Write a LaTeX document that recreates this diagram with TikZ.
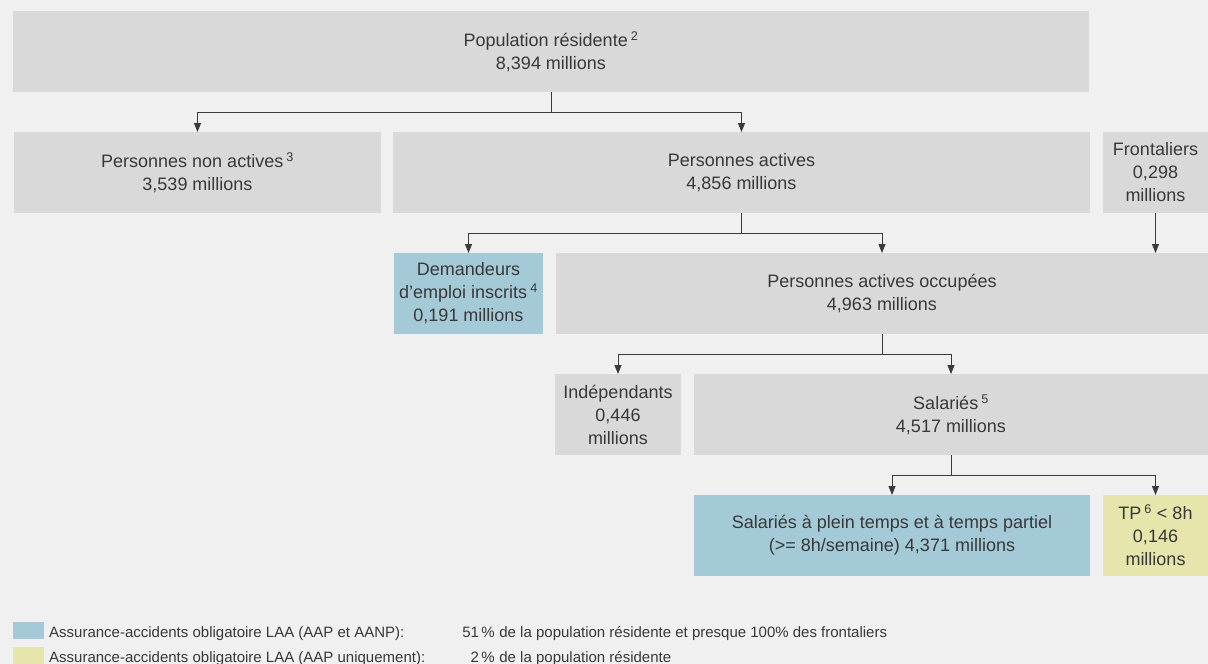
\documentclass[tikz,border=0pt]{standalone}
\usepackage{fontspec}
\setmainfont{Liberation Sans}
\usetikzlibrary{arrows.meta}
\definecolor{bgcol}{HTML}{F0F0F0}
\definecolor{boxgray}{HTML}{D9D9D9}
\definecolor{laablue}{HTML}{A5CAD7}
\definecolor{laayellow}{HTML}{E6E6AC}
\definecolor{txtcol}{HTML}{383838}
\definecolor{linecol}{HTML}{3A3A3A}
\newcommand{\fnote}[1]{\,\textsuperscript{#1}}
\begin{document}
\begin{tikzpicture}[x=1pt,y=-1pt,>={Triangle[length=9pt,width=7pt]},
		box/.style={fill=boxgray,minimum height=81pt,inner sep=0pt,outer sep=0pt,align=center,text=txtcol,font=\fontsize{18}{23}\selectfont},
		conn/.style={draw=linecol,line width=0.9pt},
		legend/.style={inner sep=0pt,text=txtcol,font=\fontsize{15}{18}\selectfont}]
	\fill[bgcol] (0,0) rectangle (1208,664);
	\useasboundingbox (0,0) rectangle (1208,664);
	% rows of boxes
	\node[box,minimum width=1076pt] (pop) at (551,51.5) {Population résidente\fnote{2}\\8,394 millions};
	\node[box,minimum width=367pt] (nonact) at (197.5,172.5) {Personnes non actives\fnote{3}\\3,539 millions};
	\node[box,minimum width=697pt] (act) at (741.5,172.5) {Personnes actives\\4,856 millions};
	\node[box,minimum width=105pt] (front) at (1155.5,172.5) {Frontaliers\\0,298\\millions};
	\node[box,fill=laablue,minimum width=149pt] (dem) at (468.5,293.5) {Demandeurs\\d’emploi inscrits\fnote{4}\\0,191 millions};
	\node[box,minimum width=652pt] (occ) at (882,293.5) {Personnes actives occupées\\4,963 millions};
	\node[box,minimum width=126pt] (indep) at (618,414.5) {Indépendants\\0,446\\millions};
	\node[box,minimum width=514pt] (sal) at (951,414.5) {Salariés\fnote{5}\\4,517 millions};
	\node[box,fill=laablue,minimum width=396pt] (salpt) at (892,535.5) {Salariés à plein temps et à temps partiel\\(>= 8h/semaine) 4,371 millions};
	\node[box,fill=laayellow,minimum width=105pt] (tp) at (1155.5,535.5) {TP\fnote{6} < 8h\\0,146\\millions};
	% connectors
	\draw[conn] (pop.south) -- ++(0,20) coordinate (s1);
	\draw[conn,->] (s1) -| (nonact.north);
	\draw[conn,->] (s1) -| (act.north);
	\draw[conn] (act.south) -- ++(0,20) coordinate (s2);
	\draw[conn,->] (s2) -| (dem.north);
	\draw[conn,->] (s2) -| (occ.north);
	\draw[conn,->] (front.south) -- (front |- occ.north);
	\draw[conn] (occ.south) -- ++(0,20) coordinate (s3);
	\draw[conn,->] (s3) -| (indep.north);
	\draw[conn,->] (s3) -| (sal.north);
	\draw[conn] (sal.south) -- ++(0,20) coordinate (s4);
	\draw[conn,->] (s4) -| (salpt.north);
	\draw[conn,->] (s4) -| (tp.north);
	% legend
	\fill[laablue] (13,622) rectangle (44,639);
	\fill[laayellow] (13,647) rectangle (44,664);
	\node[legend,anchor=base west] (leg1) at (49,637) {Assurance-accidents obligatoire LAA (AAP et AANP):};
	\node[legend,anchor=base east] (pc1) at (495,637) {51\,\%};
	\node[legend,anchor=base west,xshift=4.2pt] (txt1) at (pc1.base east) {de la population résidente et presque 100\% des frontaliers};
	\node[legend,anchor=base west] (leg2) at (49,662) {Assurance-accidents obligatoire LAA (AAP uniquement):};
	\node[legend,anchor=base east] (pc2) at (495,662) {2\,\%};
	\node[legend,anchor=base west,xshift=4.2pt] (txt2) at (pc2.base east) {de la population résidente};
\end{tikzpicture}
\end{document}
